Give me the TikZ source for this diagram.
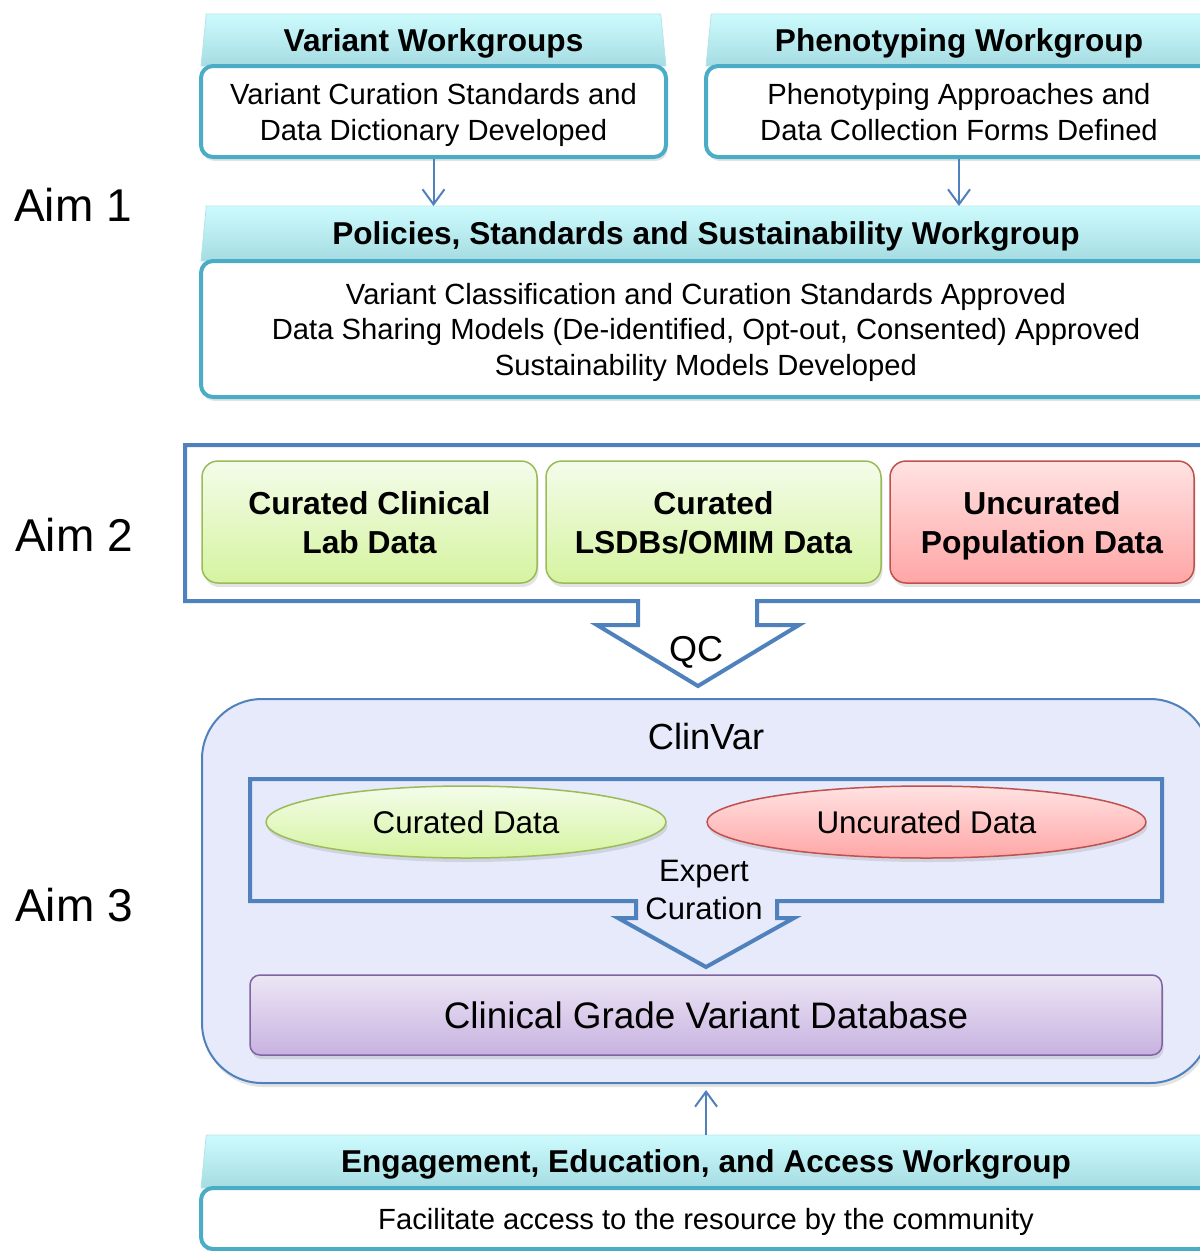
\documentclass[tikz,border=0pt]{standalone}
\usepackage{fontspec}
\setmainfont{Liberation Sans}
\usetikzlibrary{shapes.geometric,shadows,arrows.meta}

\definecolor{wgTop}{HTML}{CDFBFD}
\definecolor{wgBottom}{HTML}{A5DCE2}
\definecolor{wgLine}{HTML}{4BACC6}
\definecolor{frameBlue}{HTML}{4F81BD}
\definecolor{greenTop}{HTML}{F4FCEA}
\definecolor{greenBottom}{HTML}{D5F4A0}
\definecolor{greenLine}{HTML}{9BBB59}
\definecolor{redTop}{HTML}{FFE2E2}
\definecolor{redBottom}{HTML}{FFA6A6}
\definecolor{redLine}{HTML}{C0504D}
\definecolor{clinFill}{HTML}{E6EAFB}
\definecolor{purpleTop}{HTML}{ECE6F5}
\definecolor{purpleBottom}{HTML}{C8B2E0}
\definecolor{purpleLine}{HTML}{8064A2}

\begin{document}
\begin{tikzpicture}[x=1pt, y=-1pt, line join=round, >={Straight Barb[length=15pt,width=22pt]}]
	\tikzset{
		boxshadow/.style={drop shadow={opacity=0.22, shadow xshift=1.5pt, shadow yshift=-4pt}},
		aim/.style={font=\fontsize{46}{52}\selectfont},
		wghead/.style={trapezium, trapezium left angle=77, trapezium right angle=77, trapezium stretches body,
			minimum height=52pt, inner sep=0pt, outer sep=0pt, top color=wgTop, bottom color=wgBottom,
			draw=wgBottom!80!white, line width=0.8pt, text depth=0pt, font=\fontsize{31.6}{38}\selectfont\bfseries},
		wgbody/.style={rectangle, rounded corners=12pt, draw=wgLine, line width=4pt, fill=white, boxshadow,
			align=center, inner sep=0pt, outer sep=0pt, text depth=0pt, font=\fontsize{29.2}{36}\selectfont},
		frame/.style={draw=frameBlue, line width=4pt, line join=miter},
		link/.style={draw=frameBlue, line width=2pt, ->},
		databox/.style={rectangle, rounded corners=16pt, line width=1.5pt, boxshadow, align=center, text depth=0pt,
			minimum width=335pt, minimum height=122pt, inner sep=0pt, font=\fontsize{31.8}{39}\selectfont\bfseries},
		curated/.style={databox, draw=greenLine, top color=greenTop, bottom color=greenBottom},
		uncurated/.style={databox, draw=redLine, top color=redTop, bottom color=redBottom},
		oval/.style={ellipse, line width=1.5pt, boxshadow, inner sep=0pt, font=\fontsize{31.4}{38}\selectfont},
		plain/.style={font=\fontsize{31}{38}\selectfont, align=center, inner sep=0pt}
	}
	\useasboundingbox (0,0) rectangle (1200,1251);
	\clip (0,0) rectangle (1200,1251);

	% Aim 1
	\node[aim] (aim1) at (73,205) {Aim 1};
	\node[wghead, minimum width=465pt] (vwHead) at (433.5,40) {Variant Workgroups};
	\node[wgbody, minimum width=465pt, minimum height=91pt] (vwBody) at (433.5,111.5)
		{Variant Curation Standards and\\Data Dictionary Developed};
	\node[wghead, minimum width=506pt] (phHead) at (959,40) {Phenotyping Workgroup};
	\node[wgbody, minimum width=506pt, minimum height=91pt] (phBody) at (959,111.5)
		{Phenotyping Approaches and\\Data Collection Forms Defined};
	\node[wghead, minimum width=1010pt, minimum height=55pt] (psHead) at (706,233.5)
		{Policies, Standards and Sustainability Workgroup};
	\node[wgbody, minimum width=1010pt, minimum height=136pt, font=\fontsize{29.2}{35.5}\selectfont] (psBody) at (706,329)
		{Variant Classification and Curation Standards Approved\\
		Data Sharing Models (De-identified, Opt-out, Consented) Approved\\
		Sustainability Models Developed};
	\draw[link, shorten <=2pt] (vwBody.south) -- (vwBody.south |- psHead.north);
	\draw[link, shorten <=2pt] (phBody.south) -- (phBody.south |- psHead.north);

	% Aim 2
	\node[aim] (aim2) at (74,535) {Aim 2};
	\draw[frame] (638,601) -- (185,601) -- (185,445) -- (1215,445) -- (1215,601) -- (757,601)
		-- (757,625) -- (799,625) -- (698,686) -- (597,625) -- (638,625) -- cycle;
	\node[curated] (labData) at (369.5,522) {Curated Clinical\\Lab Data};
	\node[curated] (lsdbData) at (713.5,522) {Curated\\LSDBs/OMIM Data};
	\node[uncurated, minimum width=304pt] (popData) at (1042,522) {Uncurated\\Population Data};
	\node[plain, font=\fontsize{36}{42}\selectfont] (qc) at (696,652) {QC};

	% Aim 3
	\node[aim] (aim3) at (74,905) {Aim 3};
	\node[rectangle, rounded corners=60pt, draw=frameBlue, line width=2pt, fill=clinFill, boxshadow,
		minimum width=1008pt, minimum height=384pt] (clinvar) at (706,891) {};
	\node[plain, font=\fontsize{36.3}{42}\selectfont] (clinvarTitle) at (706,737) {ClinVar};
	\draw[frame] (636,901) -- (250,901) -- (250,779) -- (1162,779) -- (1162,901) -- (777,901)
		-- (777,918) -- (794,918) -- (706,967) -- (618,918) -- (636,918) -- cycle;
	\node[oval, draw=greenLine, top color=greenTop, bottom color=greenBottom,
		minimum width=400pt, minimum height=72pt] (curOval) at (466,822) {Curated Data};
	\node[oval, draw=redLine, top color=redTop, bottom color=redBottom,
		minimum width=439pt, minimum height=72pt] (uncOval) at (926.5,822) {Uncurated Data};
	\node[plain] (expert) at (704,890) {Expert\\Curation};
	\node[rectangle, rounded corners=10pt, draw=purpleLine, line width=1.5pt, top color=purpleTop,
		bottom color=purpleBottom, boxshadow, minimum width=912pt, minimum height=80pt,
		font=\fontsize{36.9}{44}\selectfont] (cgvdb) at (706,1015) {Clinical Grade Variant Database};

	% outreach
	\node[wghead, minimum width=1010pt, minimum height=53pt] (eeHead) at (706,1161.5)
		{Engagement, Education, and Access Workgroup};
	\node[wgbody, minimum width=1010pt, minimum height=61pt] (eeBody) at (706,1218.5)
		{Facilitate access to the resource by the community};
	\draw[link, shorten >=6pt] (eeHead.north) -- (eeHead.north |- clinvar.south);
\end{tikzpicture}
\end{document}
